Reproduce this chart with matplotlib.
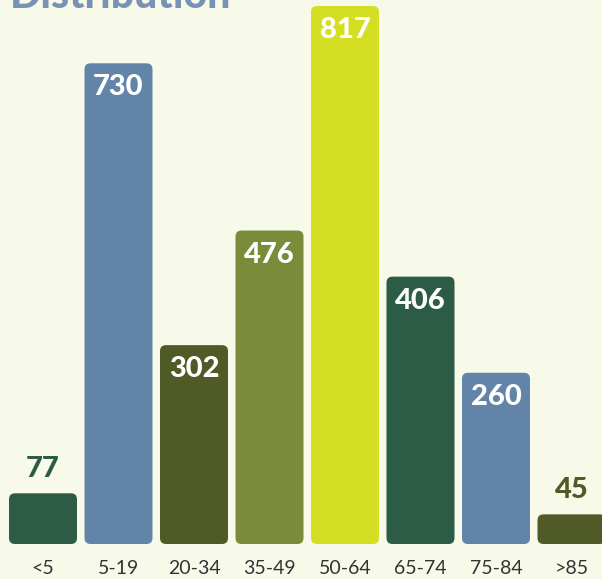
import matplotlib.pyplot as plt
from matplotlib.patches import FancyBboxPatch

# --- data ---
categories = ['<5', '5-19', '20-34', '35-49', '50-64', '65-74', '75-84', '>85']
values = [77, 730, 302, 476, 817, 406, 260, 45]
bar_colors = ['#2c5b46', '#6384a9', '#4f5a27', '#7a8c39', '#d4de23', '#2c5b46', '#6384a9', '#4f5a27']

BG = '#f7f9e9'
W_PX, H_PX = 602, 579
PX_PER_CAT = 75.5
FIRST_CENTER_PX = 43
BASE_PX = 35          # baseline distance from bottom
PX_PER_UNIT = 538 / 817
INSIDE_MIN = 150      # values below this get label above bar

fig = plt.figure(figsize=(W_PX / 100, H_PX / 100), dpi=100)
fig.patch.set_facecolor(BG)
ax = fig.add_axes([0, 0, 1, 1])
ax.set_facecolor(BG)

x0 = -FIRST_CENTER_PX / PX_PER_CAT
ax.set_xlim(x0, x0 + W_PX / PX_PER_CAT)
y0 = -BASE_PX / PX_PER_UNIT
ax.set_ylim(y0, y0 + H_PX / PX_PER_UNIT)

bar_w = 68 / PX_PER_CAT
r_x = 6 / PX_PER_CAT
r_y = 6 / PX_PER_UNIT

for i, (v, c) in enumerate(zip(values, bar_colors)):
    patch = FancyBboxPatch((i - bar_w / 2, 0), bar_w, v,
                           boxstyle=f"round,pad=0,rounding_size={r_x}",
                           mutation_aspect=r_y / r_x,
                           facecolor=c, edgecolor='none')
    ax.add_patch(patch)
    if v >= INSIDE_MIN:
        ax.text(i, v - 11 / PX_PER_UNIT, str(v), ha='center', va='top',
                color='white', fontsize=21, fontweight='black', family='Lato')
    else:
        ax.text(i, v + 11 / PX_PER_UNIT, str(v), ha='center', va='bottom',
                color=c, fontsize=21, fontweight='black', family='Lato')
    ax.text(i, -25 / PX_PER_UNIT, categories[i], ha='center', va='center',
            color='#333333', fontsize=14, family='Lato')

ax.axis('off')

fig.text(10 / W_PX, 1 - 8 / H_PX, 'Distribution', ha='left', va='baseline',
         color='#7892b5', fontsize=29.5, fontweight='black', family='Lato')

fig.savefig('out.png', dpi=100, facecolor=BG)
